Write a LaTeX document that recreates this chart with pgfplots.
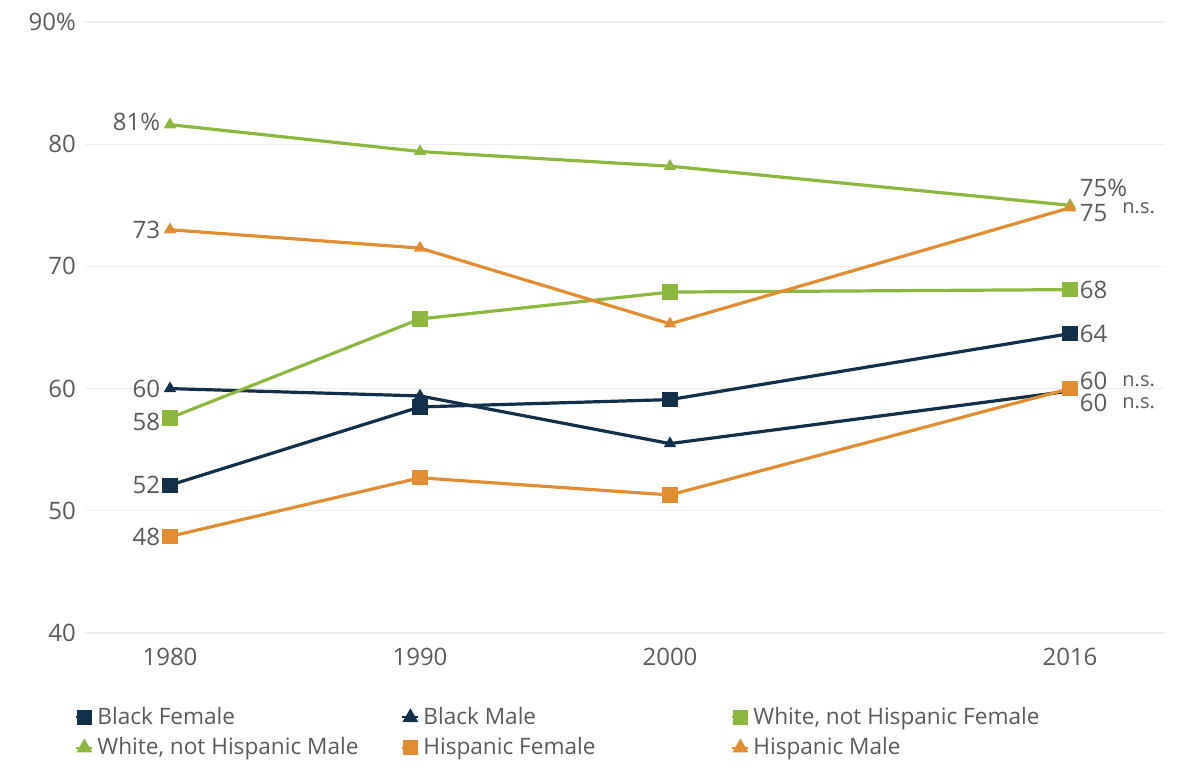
\documentclass[border=0pt]{standalone}
\usepackage{fontspec}
\setmainfont{Open Sans}
\usepackage{pgfplots}
\pgfplotsset{compat=1.18}
\definecolor{navy}{HTML}{13304A}
\definecolor{lgreen}{HTML}{8DB73F}
\definecolor{orng}{HTML}{E28D32}
\definecolor{txt}{HTML}{5A5A5A}
\definecolor{gridc}{HTML}{EEEEEE}
\begin{document}
\begin{tikzpicture}
\useasboundingbox (-42.5pt,-67pt) rectangle (552.5pt,316.5pt);
\begin{axis}[
  at={(0,0)}, anchor=south west,
  scale only axis, width=540pt, height=305.5pt,
  xmin=1976.6, xmax=2019.8, ymin=40, ymax=90,
  axis line style={draw=none},
  xtick={1980,1990,2000,2016},
  xticklabels={1980,1990,2000,2016},
  ytick={40,50,60,70,80,90},
  yticklabels={40,50,60,70,80,90\%},
  ymajorgrids, grid style={gridc, line width=0.6pt},
  major tick length=0pt,
  tick label style={font=\fontsize{12}{14}\selectfont, text=txt},
  /pgf/number format/assume math mode=true,
  yticklabel style={anchor=east, xshift=-1pt},
  xticklabel style={yshift=-4pt},
  clip=false,
  every axis plot/.append style={line width=1.6pt},
  legend columns=3,
  legend style={at={(0,0)}, anchor=north west, xshift=-5pt, yshift=-35pt,
    draw=none, fill=none, font=\fontsize{11.3}{13}\selectfont, text=txt,
    row sep=1pt, inner sep=0pt},
  legend cell align=left,
  legend image code/.code={\draw[#1, line width=1pt] (0pt,0pt) -- (8pt,0pt);
     \draw[#1, only marks, mark size=3pt] plot coordinates {(4pt,0pt)};},
]
% Black Female
\addplot[navy, mark=square*, mark size=3pt] coordinates {(1980,52.1) (1990,58.5) (2000,59.1) (2016,64.5)};
\addlegendentry{\makebox[150pt][l]{Black Female}}
% Black Male
\addplot[navy, mark=triangle*, mark size=2pt] coordinates {(1980,60.0) (1990,59.4) (2000,55.5) (2016,59.8)};
\addlegendentry{\makebox[152pt][l]{Black Male}}
% White Female
\addplot[lgreen, mark=square*, mark size=3pt] coordinates {(1980,57.6) (1990,65.7) (2000,67.9) (2016,68.1)};
\addlegendentry{White, not Hispanic Female}
% White Male
\addplot[lgreen, mark=triangle*, mark size=2pt] coordinates {(1980,81.6) (1990,79.4) (2000,78.2) (2016,75.0)};
\addlegendentry{\makebox[150pt][l]{White, not Hispanic Male}}
% Hispanic Female
\addplot[orng, mark=square*, mark size=3pt] coordinates {(1980,47.9) (1990,52.7) (2000,51.3) (2016,60.0)};
\addlegendentry{\makebox[152pt][l]{Hispanic Female}}
% Hispanic Male
\addplot[orng, mark=triangle*, mark size=2pt] coordinates {(1980,73.0) (1990,71.5) (2000,65.3) (2016,74.8)};
\addlegendentry{Hispanic Male}
% value labels
\begin{scope}[every node/.style={font=\fontsize{12}{14}\selectfont, text=txt, inner sep=1pt}]
\node[anchor=east] at (axis cs:1979.7,81.8) {81\%};
\node[anchor=east] at (axis cs:1979.7,73.0) {73};
\node[anchor=east] at (axis cs:1979.7,60.0) {60};
\node[anchor=east] at (axis cs:1979.7,57.3) {58};
\node[anchor=east] at (axis cs:1979.7,52.1) {52};
\node[anchor=east] at (axis cs:1979.7,47.9) {48};
\node[anchor=west] at (axis cs:2016.3,76.4) {75\%};
\node[anchor=west] at (axis cs:2016.3,74.4) {75};
\node[anchor=west] at (axis cs:2016.3,68.1) {68};
\node[anchor=west] at (axis cs:2016.3,64.5) {64};
\node[anchor=west] at (axis cs:2016.3,60.6) {60};
\node[anchor=west] at (axis cs:2016.3,58.8) {60};
\end{scope}
\begin{scope}[every node/.style={font=\fontsize{10}{12}\selectfont, text=txt, inner sep=1pt}]
\node[anchor=west] at (axis cs:2018.0,74.8) {n.s.};
\node[anchor=west] at (axis cs:2018.0,60.6) {n.s.};
\node[anchor=west] at (axis cs:2018.0,58.8) {n.s.};
\end{scope}
\end{axis}
\end{tikzpicture}
\end{document}
